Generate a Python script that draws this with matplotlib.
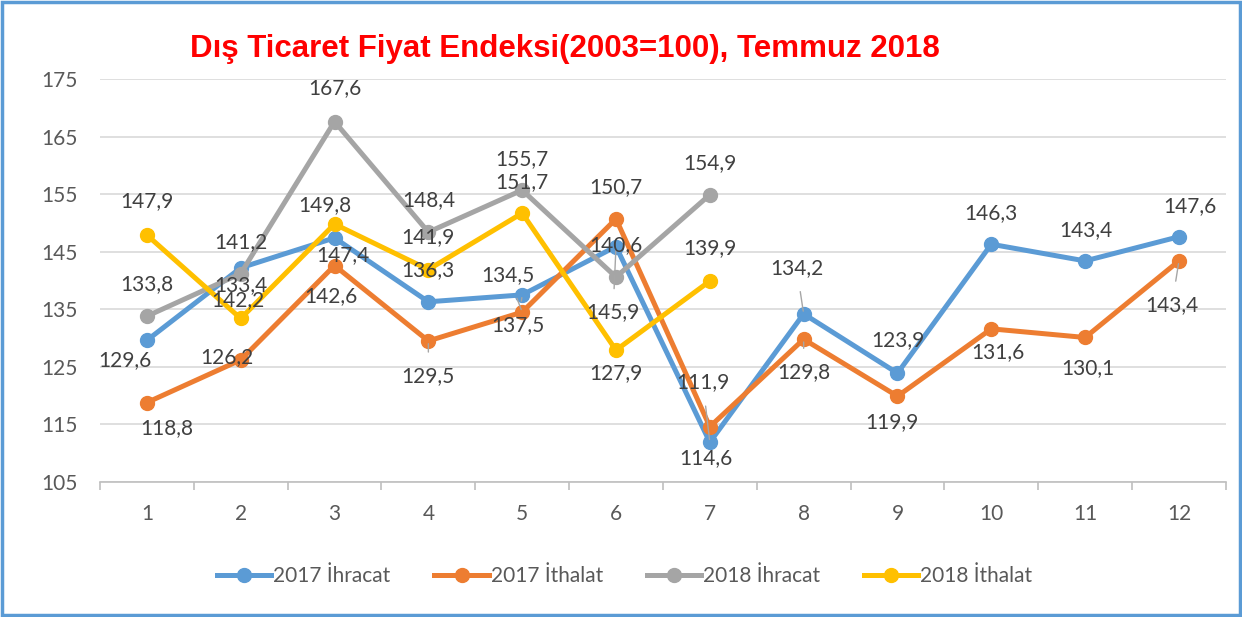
import numpy as np
import matplotlib.pyplot as plt
from matplotlib.patches import Rectangle
from matplotlib.lines import Line2D

plt.rcParams['font.family'] = ['Lato', 'DejaVu Sans']

months = list(range(1, 13))
ihr_2017 = [129.6, 142.2, 147.4, 136.3, 137.5, 145.9, 111.9, 134.2, 123.9, 146.3, 143.4, 147.6]
ith_2017 = [118.8, 126.2, 142.6, 129.5, 134.5, 150.7, 114.6, 129.8, 119.9, 131.6, 130.1, 143.4]
ihr_2018 = [133.8, 141.2, 167.6, 148.4, 155.7, 140.6, 154.9]
ith_2018 = [147.9, 133.4, 149.8, 141.9, 151.7, 127.9, 139.9]

names = ['2017 İhracat', '2017 İthalat', '2018 İhracat', '2018 İthalat']
colors = ['#5B9BD5', '#ED7D31', '#A5A5A5', '#FFC000']

# label offsets in pixels (dx, dy; dy positive = down), roughly like the Excel layout
off_ihr17 = [(-22, 20), (-3, 32), (8, 17), (0, -32), (-4, 30), (-3, 66), (-7, -60), (-7, -46), (0, -33), (0, -31), (1, -31), (11, -31)]
off_ith17 = [(20, 26), (-14, -3), (-4, 31), (0, 35), (-14, -37), (0, -32), (-4, 31), (0, 33), (-6, 26), (7, 23), (3, 31), (-7, 44)]
off_ihr18 = [(0, -32), (0, -31), (0, -33), (0, -32), (0, -31), (0, -32), (0, -32)]
off_ith18 = [(0, -34), (0, -33), (-10, -19), (0, -32), (0, -31), (0, 23), (0, -33)]
lead_ihr17 = [4, 5, 6, 7]
lead_ith17 = [3, 4, 7, 11]

fig = plt.figure(figsize=(12.42, 6.17), dpi=100)
ax = fig.add_axes([0.0805, 0.2188, 0.9065, 0.6532])

series = [ihr_2017, ith_2017, ihr_2018, ith_2018]
offsets = [off_ihr17, off_ith17, off_ihr18, off_ith18]
leads = [lead_ihr17, lead_ith17, [], []]

for vals, c, name in zip(series, colors, names):
    ax.plot(months[:len(vals)], vals, color=c, lw=3.6, marker='o', ms=10,
            solid_capstyle='round', label=name, zorder=3)

for vals, offs, ld in zip(series, offsets, leads):
    for i, v in enumerate(vals):
        dx, dy = offs[i]
        ap = None
        if i in ld:
            ap = dict(arrowstyle='-', color='#A6A6A6', lw=1, shrinkA=8, shrinkB=2)
        ax.annotate(f'{v:.1f}'.replace('.', ','), (months[i], v), xytext=(dx, -dy),
                    textcoords='offset pixels', ha='center', va='center',
                    fontsize=15, color='#404040', arrowprops=ap, zorder=4)

ax.set_xlim(0.5, 12.5)
ax.set_ylim(105, 175)
ax.set_yticks(np.arange(105, 176, 10))
ax.set_xticks(months)
ax.set_xticks(np.arange(0.5, 12.6, 1), minor=True)
ax.grid(axis='y', color='#D9D9D9', lw=1.2)
ax.set_axisbelow(True)
for s in ['top', 'right', 'left']:
    ax.spines[s].set_visible(False)
ax.spines['bottom'].set_color('#BFBFBF')
ax.spines['bottom'].set_linewidth(1.2)
ax.tick_params(axis='y', length=0, pad=16, labelsize=15, labelcolor='#595959')
ax.tick_params(axis='x', which='major', length=0, pad=16, labelsize=15, labelcolor='#595959')
ax.tick_params(axis='x', which='minor', length=6, color='#BFBFBF', width=1.2)

fig.text(0.455, 0.921, 'Dış Ticaret Fiyat Endeksi(2003=100), Temmuz 2018',
         ha='center', va='center', fontsize=22.5, fontweight='bold', color='#FF0000',
         family=['Liberation Sans', 'DejaVu Sans'])

handles = [Line2D([0], [0], color=c, lw=3.6, marker='o', ms=10) for c in colors]
fig.legend(handles, names, loc='center', bbox_to_anchor=(0.503, 0.066), ncol=4, frameon=False,
           fontsize=15, labelcolor='#595959', handlelength=2.6, handletextpad=0.1,
           columnspacing=2.1)

fig.add_artist(Rectangle((0.002, 0.003), 0.996, 0.994, transform=fig.transFigure,
                         fill=False, edgecolor='#5B9BD5', lw=2.5))

fig.savefig('out.png', dpi=100)
